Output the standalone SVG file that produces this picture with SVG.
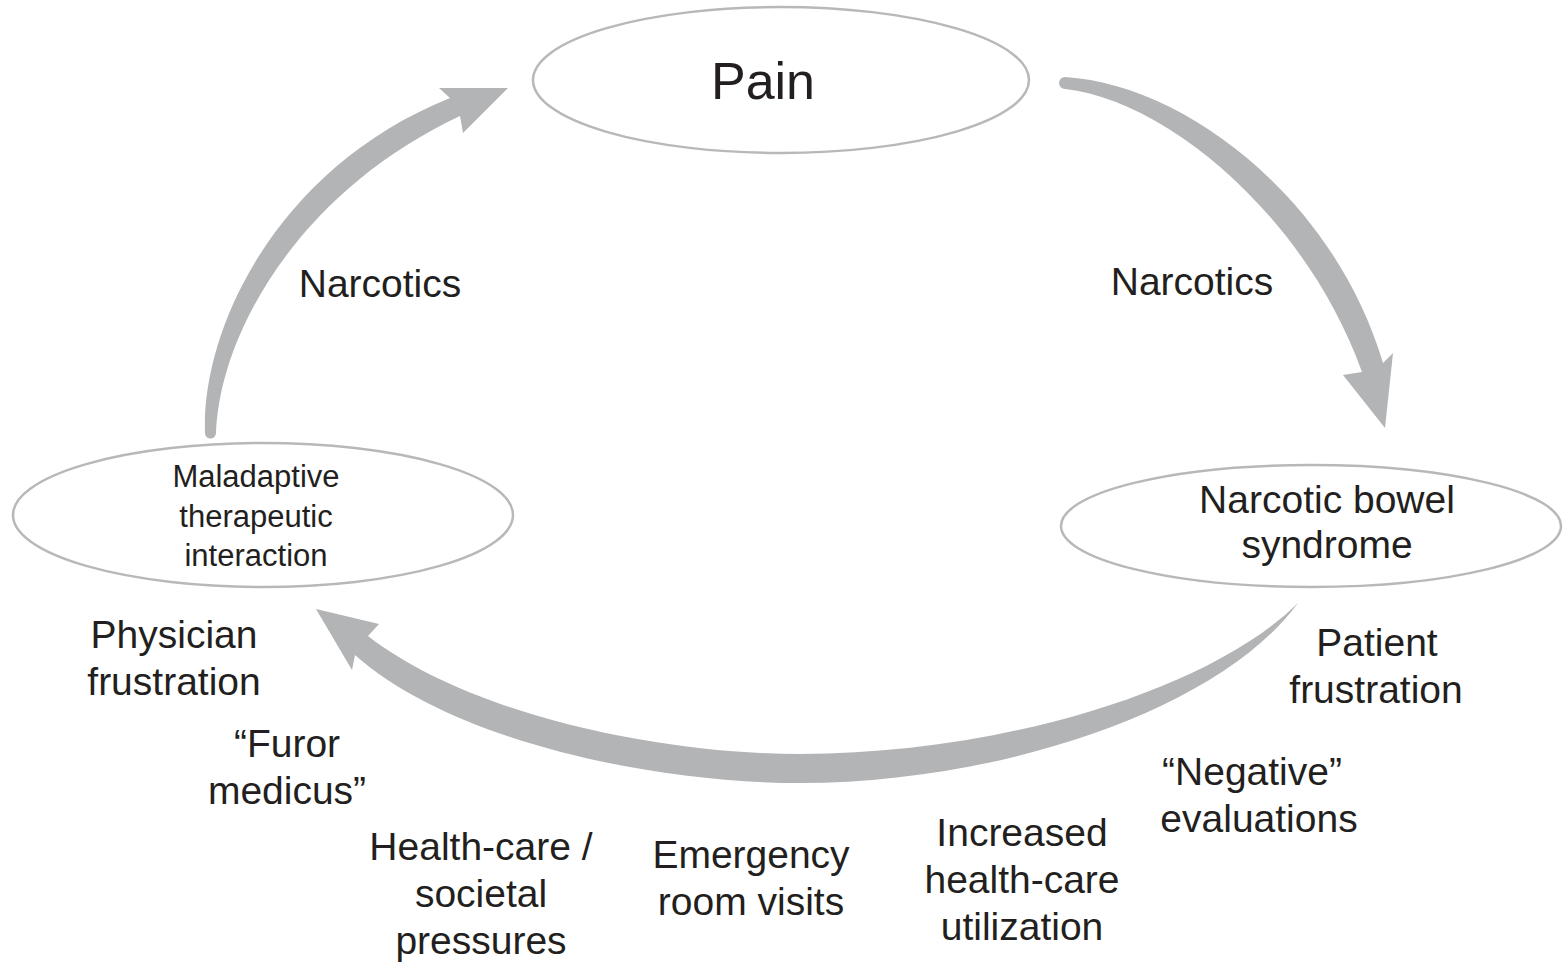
<svg xmlns="http://www.w3.org/2000/svg" width="1566" height="962" viewBox="0 0 1566 962">
<style>
.node{fill:#ffffff;stroke:#b8b8b8;stroke-width:2.5}
.t{font-family:"Liberation Sans",Arial,sans-serif;fill:#231f20;text-anchor:middle}
.arrow{fill:#b3b4b6;stroke:none}
</style>
<rect width="1566" height="962" fill="#ffffff"/>
<g id="connectors">
<path class="arrow" d="M205,433 C201,330 276,168 450,98 L439,88 L508,88 L463,133 L460,116 C302,190 220,330 216,433 A5.5 5.5 0 0 1 205,433 Z"/>
<path class="arrow" d="M1065,77 C1184,84 1334,198 1383,363 L1393,353 L1385,428 L1343,375 L1362,372 C1306,216 1166,100 1065,89 A6 6 0 0 1 1065,77 Z"/>
<path class="arrow" d="M1298,603 C1220,710 1000,783 800,783 C650,783 450,740 355,655 L352,670 L316,609 L379,624 L368,636 C470,715 660,754 800,754 C1000,754 1210,690 1298,603 Z"/>
</g>
<g id="node-pain">
<ellipse class="node" cx="781" cy="80" rx="248" ry="73"/>
<text class="t" x="763" y="99" font-size="52">Pain</text>
</g>
<g id="node-nbs">
<ellipse class="node" cx="1311" cy="526" rx="250" ry="61"/>
<text class="t" x="1327" y="513" font-size="39">Narcotic bowel</text>
<text class="t" x="1327" y="558" font-size="39">syndrome</text>
</g>
<g id="node-maladaptive">
<ellipse class="node" cx="263" cy="515" rx="250" ry="72"/>
<text class="t" x="256" y="487" font-size="31">Maladaptive</text>
<text class="t" x="256" y="527" font-size="31">therapeutic</text>
<text class="t" x="256" y="566" font-size="31">interaction</text>
</g>
<g id="labels">
<text class="t" x="380" y="297" font-size="39">Narcotics</text>
<text class="t" x="1192" y="295" font-size="39">Narcotics</text>
<text class="t" x="174" y="648" font-size="39">Physician</text>
<text class="t" x="174" y="695" font-size="39">frustration</text>
<text class="t" x="1377" y="656" font-size="39">Patient</text>
<text class="t" x="1376" y="703" font-size="39">frustration</text>
<text class="t" x="287" y="757" font-size="39">“Furor</text>
<text class="t" x="287" y="804" font-size="39">medicus”</text>
<text class="t" x="1252" y="785" font-size="39">“Negative”</text>
<text class="t" x="1259" y="832" font-size="39">evaluations</text>
<text class="t" x="1022" y="846" font-size="39">Increased</text>
<text class="t" x="1022" y="893" font-size="39">health-care</text>
<text class="t" x="1022" y="940" font-size="39">utilization</text>
<text class="t" x="751" y="868" font-size="39">Emergency</text>
<text class="t" x="751" y="915" font-size="39">room visits</text>
<text class="t" x="481" y="860" font-size="39">Health-care /</text>
<text class="t" x="481" y="907" font-size="39">societal</text>
<text class="t" x="481" y="954" font-size="39">pressures</text>
</g>
</svg>
